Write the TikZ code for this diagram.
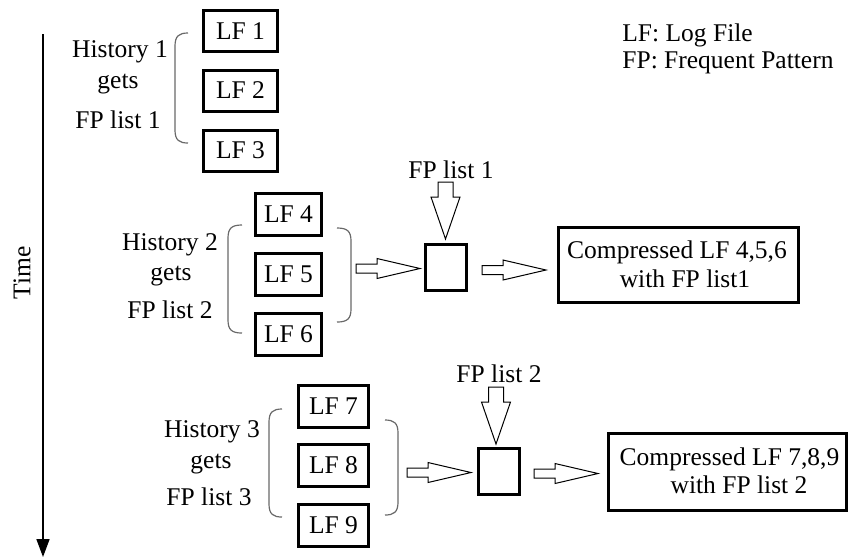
\documentclass[tikz,border=0pt]{standalone}
\usepackage{fontspec}
\setmainfont{Liberation Serif}
\usetikzlibrary{arrows.meta}
\definecolor{brkgray}{RGB}{105,105,105}
\newcommand\leftbrk[4]{\draw[brk] (#2,#3) .. controls (#1+4,#3) and (#1,#3+3) .. (#1,#3+13) -- (#1,#4-13) .. controls (#1,#4-3) and (#1+4,#4) .. (#2,#4);}
\newcommand\rightbrk[4]{\draw[brk] (#1,#3) .. controls (#2-4,#3) and (#2,#3+3) .. (#2,#3+13) -- (#2,#4-13) .. controls (#2,#4-3) and (#2-4,#4) .. (#1,#4);}
\begin{document}
\begin{tikzpicture}[x=0.5pt,y=-0.5pt,
  every node/.style={font=\fontsize{12.75}{15}\selectfont},
  lfbox/.style={draw, line width=1.5pt, inner sep=0pt, minimum width=#1, minimum height=21pt},
  sqbox/.style={draw, line width=1.5pt, inner sep=0pt, minimum width=20.5pt, minimum height=23pt},
  cbox/.style={draw, line width=1.5pt, inner sep=0pt},
  txt/.style={inner sep=0pt, anchor=base},
  brk/.style={draw=brkgray, line width=0.6pt},
  harrow/.style={draw, line width=0.5pt, fill=white},
  rarrow/.pic={\draw[harrow] (0,-4.5) -- (21,-4.5) -- (21,-10) -- (64,0) -- (21,10) -- (21,4.5) -- (0,4.5) -- cycle;},
  darrow/.pic={\draw[harrow] (-7.5,0) -- (-7.5,15) -- (-14.5,15) -- (0,57) -- (14.5,15) -- (7.5,15) -- (7.5,0) -- cycle;}
]
\useasboundingbox (0,0) rectangle (849,559);

% time axis
\coordinate (t0) at (43,34);
\coordinate (t1) at (43,557);
\draw[line width=0.8pt,-{Triangle[length=9pt,width=6.5pt]}] (t0) -- (t1);
\node[rotate=90, inner sep=0pt] (time) at (22,273) {Time};

% legend
\node[inner sep=0pt, anchor=base west] (leg1) at (622,41) {LF: Log File};
\node[inner sep=0pt, anchor=base west] (leg2) at (622,68) {FP: Frequent Pattern};

% group 1
\node[lfbox=37pt, minimum height=20.5pt] (lf1) at (240.5,31) {LF 1};
\node[lfbox=37pt, minimum height=20.5pt] (lf2) at (240.5,90.5) {LF 2};
\node[lfbox=37pt, minimum height=20.5pt] (lf3) at (240.5,150.5) {LF 3};
\node[txt] (h1a) at (120,57) {History 1};
\node[txt] (h1b) at (118,88) {gets};
\node[txt] (h1c) at (118,128) {FP list 1};
\leftbrk{175}{188}{33}{143}

% group 2
\node[lfbox=33pt] (lf4) at (288.5,214.5) {LF 4};
\node[lfbox=33pt] (lf5) at (288.5,274.5) {LF 5};
\node[lfbox=33pt] (lf6) at (288.5,334.5) {LF 6};
\node[txt] (h2a) at (170,250) {History 2};
\node[txt] (h2b) at (171,280) {gets};
\node[txt] (h2c) at (170,318) {FP list 2};
\leftbrk{228}{242}{225}{333}
\rightbrk{337}{351}{228}{322}
\node[sqbox] (sq2) at (446,267.5) {};
\node[cbox, minimum width=120pt, minimum height=37.5pt] (c2) at (678.5,265) {};
\node[txt] (c2a) at (677,258) {Compressed LF 4,5,6};
\node[txt] (c2b) at (685,287) {with FP list1};
\node[txt] (fp1) at (451,178) {FP list 1};
\coordinate (a2l) at (356,268.5);
\coordinate (a2r) at (482,270);
\coordinate (a2d) at (445.5,182);
\pic at (a2l) {rarrow};
\pic at (a2r) {rarrow};
\pic at (a2d) {darrow};

% group 3
\node[lfbox=35pt] (lf7) at (333.5,406.5) {LF 7};
\node[lfbox=35pt] (lf8) at (333.5,465.5) {LF 8};
\node[lfbox=35pt] (lf9) at (333.5,525.5) {LF 9};
\node[txt] (h3a) at (212,437) {History 3};
\node[txt] (h3b) at (211,468) {gets};
\node[txt] (h3c) at (209,505) {FP list 3};
\leftbrk{269}{282}{409}{517}
\rightbrk{385}{398}{420}{515}
\node[sqbox] (sq3) at (499,471.5) {};
\node[cbox, minimum width=119pt, minimum height=38.5pt] (c3) at (727.5,472) {};
\node[txt] (c3a) at (729.5,465) {Compressed LF 7,8,9};
\node[txt] (c3b) at (739,493) {with FP list 2};
\node[txt] (fp2) at (499,382) {FP list 2};
\coordinate (a3l) at (407,472.5);
\coordinate (a3r) at (534,473.5);
\coordinate (a3d) at (496,387);
\pic at (a3l) {rarrow};
\pic at (a3r) {rarrow};
\pic at (a3d) {darrow};
\end{tikzpicture}
\end{document}
